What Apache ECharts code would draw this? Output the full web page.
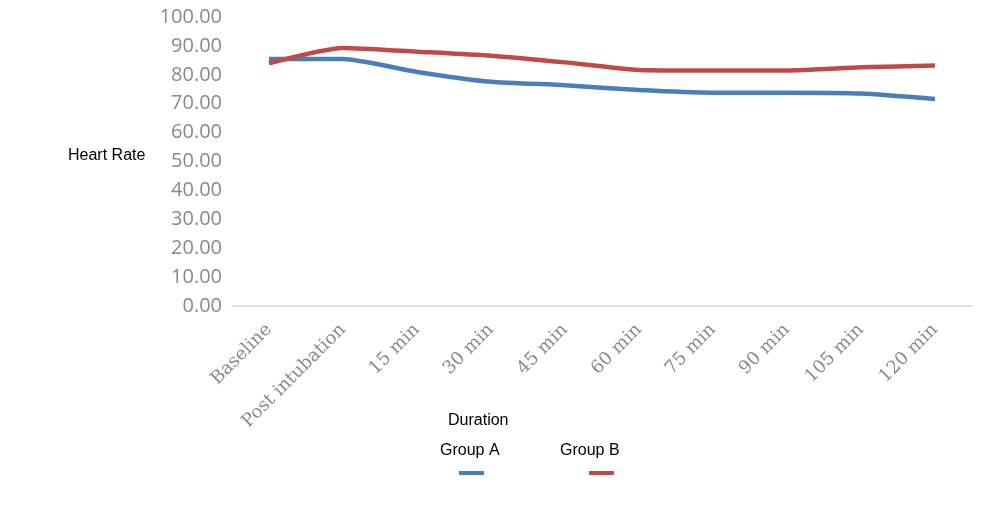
<!DOCTYPE html>
<html>
<head>
<meta charset="utf-8">
<script src="https://cdn.jsdelivr.net/npm/echarts@6/dist/echarts.min.js"></script>
<style>html,body{margin:0;padding:0;background:#fff}#c{width:986px;height:506px}</style>
</head>
<body>
<div id="c"></div>
<script>
const categories = ['Baseline','Post intubation','15 min','30 min','45 min','60 min','75 min','90 min','105 min','120 min'];
const groupA = [85.5, 85.5, 81.0, 77.6, 76.4, 74.7, 73.8, 73.8, 73.5, 71.6];
const groupB = [84.0, 89.3, 88.0, 86.6, 84.3, 81.7, 81.5, 81.5, 82.6, 83.2];
const seriesNames = ['Group A','Group B'];
const colors = ['#4a7ebb','#be4b48'];

const chart = echarts.init(document.getElementById('c'));
chart.setOption({
  animation: false,
  grid: {left: 232, right: 14, top: 17, bottom: 200, containLabel: false},
  xAxis: {
    type: 'category', data: categories, boundaryGap: true,
    axisLine: {lineStyle: {color: '#d9d9d9', width: 1.5}},
    axisTick: {show: false},
    axisLabel: {rotate: 45, margin: 21, color: '#8a8a8a', fontFamily: 'DejaVu Serif', fontSize: 18, interval: 0}
  },
  yAxis: {
    type: 'value', min: 0, max: 100, interval: 10,
    axisLine: {show: false}, axisTick: {show: false}, splitLine: {show: false},
    axisLabel: {margin: 10, color: '#8a8a8a', fontFamily: 'Open Sans', fontSize: 20, formatter: v => v.toFixed(2)}
  },
  series: seriesNames.map((n, i) => ({
    name: n, type: 'line', data: [groupA, groupB][i], showSymbol: false, smooth: 0.2,
    lineStyle: {color: colors[i], width: 4.5}, itemStyle: {color: colors[i]}
  })),
  graphic: [
    {type: 'text', left: 68, top: 148, style: {text: 'Heart Rate', fill: '#000', font: '16px "Liberation Sans"'}},
    {type: 'text', left: 448, top: 413, style: {text: 'Duration', fill: '#000', font: '16px "Liberation Sans"'}},
    {type: 'text', left: 440, top: 443, style: {text: seriesNames[0], fill: '#000', font: '16px "Liberation Sans"'}},
    {type: 'text', left: 560, top: 443, style: {text: seriesNames[1], fill: '#000', font: '16px "Liberation Sans"'}},
    {type: 'rect', shape: {x: 459, y: 471, width: 25, height: 4}, style: {fill: colors[0]}},
    {type: 'rect', shape: {x: 589, y: 471, width: 25, height: 4}, style: {fill: colors[1]}}
  ]
});
</script>
</body>
</html>
